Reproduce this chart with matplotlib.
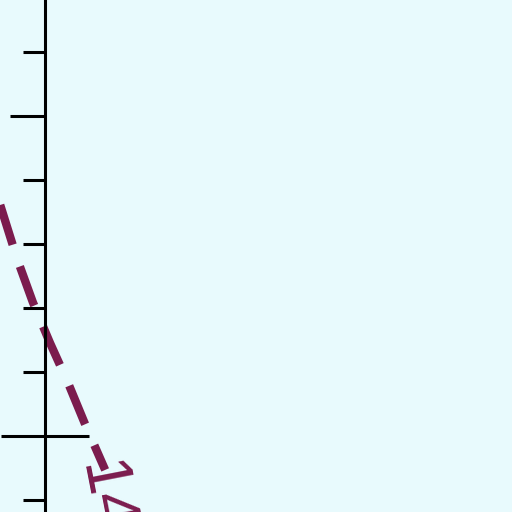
import matplotlib
matplotlib.use("Agg")
import matplotlib.pyplot as plt
import numpy as np

# contour segment (data units: 1 unit = one y tick step)
contour_x = [-0.70, -0.44, -0.19, 0.08, 0.36, 0.62, 0.94]
contour_y = [3.61, 2.78, 2.09, 1.45, 0.83, 0.20, -0.53]
contour_label = "14"
label_pos = (0.92, -0.95)

minor_ticks = [-1, 1, 2, 3, 4, 6]
major_ticks = [5]
cross_ticks = [0]

bg = "#e8fafd"
line_color = "#7b1c4e"

fig = plt.figure(figsize=(5.12, 5.12), dpi=100)
fig.patch.set_facecolor(bg)
ax = fig.add_axes([0, 0, 1, 1])
ax.set_facecolor(bg)
ax.set_xlim(-45 / 64, 467 / 64)
ax.set_ylim((436 - 512) / 64, 436 / 64)

lw = 6.0
ax.plot(contour_x, contour_y, color=line_color, lw=lw, solid_capstyle="butt",
        dash_capstyle="butt", linestyle=(0, (30 / lw, 16.5 / lw)))
ax.text(label_pos[0], label_pos[1], contour_label, color=line_color, fontsize=46,
        rotation=-79, ha="center", va="center", rotation_mode="anchor",
        fontfamily="Liberation Sans")

for s in ["top", "right", "bottom"]:
    ax.spines[s].set_visible(False)
ax.spines["left"].set_position(("data", 0))
ax.spines["left"].set_linewidth(2.2)
ax.set_xticks([])
ax.set_yticks(major_ticks)
ax.set_yticks(minor_ticks, minor=True)
ax.tick_params(axis="y", which="major", direction="out", length=25, width=2.2, labelleft=False)
ax.tick_params(axis="y", which="minor", direction="out", length=16, width=2.2, labelleft=False)

x0_frac = (0 - ax.get_xlim()[0]) / (ax.get_xlim()[1] - ax.get_xlim()[0])
sec = ax.secondary_yaxis(x0_frac)
sec.set_yticks(cross_ticks)
sec.spines["left"].set_visible(False)
sec.tick_params(axis="y", direction="inout", length=63, width=2.2, labelleft=False)

fig.savefig("out.png", dpi=100, facecolor=bg)
